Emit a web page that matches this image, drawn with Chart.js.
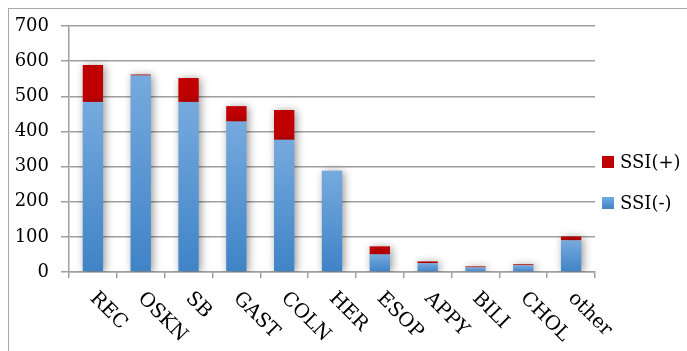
<!DOCTYPE html>
<html>
<head>
<meta charset="utf-8">
<script src="https://cdn.jsdelivr.net/npm/chart.js@4/dist/chart.umd.min.js"></script>
<style>
  html, body { margin: 0; padding: 0; background: #fff; }
  #frame {
    position: absolute; left: 8px; top: 8px; width: 700px; height: 360px;
    border-left: 1.5px solid #a8a8a8; border-top: 1.5px solid #a8a8a8;
  }
  #c { position: absolute; left: 0; top: 0; }
</style>
</head>
<body>
<div id="frame"></div>
<canvas id="c" width="687" height="351"></canvas>
<script>
// Surgical procedure categories and SSI counts
const categories = ['REC', 'OSKN', 'SB', 'GAST', 'COLN', 'HER', 'ESOP', 'APPY', 'BILI', 'CHOL', 'other'];
const ssiNegative = [484, 559, 484, 428, 376, 288, 50, 25, 13, 19, 90];
const ssiPositive = [105, 3, 68, 44, 85, 0, 23, 5, 3, 3, 11];
const seriesNames = ['SSI(-)', 'SSI(+)'];
const yTicks = { min: 0, max: 700, step: 100 };

const FONT = '"DejaVu Serif", "Liberation Serif", serif';
const GRID = '#9f9f9f';
const RED = '#c00000';

function blueGradient(chart, top, bottom) {
  const g = chart.ctx.createLinearGradient(0, top, 0, bottom);
  g.addColorStop(0, '#76aade');
  g.addColorStop(1, '#3f83c7');
  return g;
}

function blueFill(ctx) {
  const chart = ctx.chart;
  if (!chart.chartArea || ctx.raw == null) return '#5b9bd5';
  const y = chart.scales.y;
  const top = y.getPixelForValue(ctx.raw);
  const bottom = y.getPixelForValue(0);
  if (bottom - top < 1) return '#5b9bd5';
  return blueGradient(chart, top, bottom);
}

// soft drop shadow behind the bars
const barShadow = {
  id: 'barShadow',
  beforeDatasetsDraw(chart) {
    const c = chart.ctx;
    c.save();
    c.shadowColor = 'rgba(0,0,0,0.42)';
    c.shadowBlur = 8;
    c.shadowOffsetX = 2;
    c.shadowOffsetY = 1;
  },
  afterDatasetsDraw(chart) { chart.ctx.restore(); }
};

// category labels slanting down to the right
const slantLabels = {
  id: 'slantLabels',
  afterDraw(chart) {
    const c = chart.ctx;
    const x = chart.scales.x;
    c.save();
    c.font = '19.5px ' + FONT;
    c.fillStyle = '#000';
    c.textAlign = 'left';
    c.textBaseline = 'middle';
    categories.forEach((lab, i) => {
      const px = x.getPixelForValue(i);
      c.save();
      c.translate(px, 295.5);
      c.rotate(Math.PI / 4);
      c.fillText(lab, 0, 0);
      c.restore();
    });
    c.restore();
  }
};

// legend on the right, SSI(+) above SSI(-)
const sideLegend = {
  id: 'sideLegend',
  afterDraw(chart) {
    const c = chart.ctx;
    c.save();
    c.font = '18px ' + FONT;
    c.fillStyle = '#000';
    c.textAlign = 'left';
    c.textBaseline = 'middle';
    const items = [
      { name: seriesNames[1], y: 162 },
      { name: seriesNames[0], y: 203 }
    ];
    items.forEach((it, idx) => {
      const bx = 602, by = it.y - 6, s = 12;
      c.fillStyle = idx === 0 ? RED : blueGradient(chart, by, by + s);
      c.fillRect(bx, by, s, s);
      c.fillStyle = '#000';
      c.fillText(it.name, 620, it.y + 1);
    });
    c.restore();
  }
};

new Chart(document.getElementById('c'), {
  type: 'bar',
  data: {
    labels: categories,
    datasets: [
      { label: seriesNames[0], data: ssiNegative, backgroundColor: blueFill,
        barPercentage: 0.85, categoryPercentage: 0.5, borderWidth: 0 },
      { label: seriesNames[1], data: ssiPositive, backgroundColor: RED,
        barPercentage: 0.85, categoryPercentage: 0.5, borderWidth: 0 }
    ]
  },
  options: {
    responsive: false,
    animation: false,
    layout: { padding: { top: 26, right: 92, bottom: 0, left: 0 } },
    plugins: { legend: { display: false }, tooltip: { enabled: false }, title: { display: false } },
    scales: {
      x: {
        stacked: true,
        ticks: { display: false },
        grid: { drawOnChartArea: false, drawTicks: true, tickLength: 6, color: GRID, lineWidth: 1.5, offset: true },
        border: { display: true, color: GRID, width: 1.5 },
        afterFit(s) { s.height = 79; }
      },
      y: {
        stacked: true,
        min: yTicks.min,
        max: yTicks.max,
        ticks: { stepSize: yTicks.step, color: '#000', font: { family: FONT, size: 18 }, padding: 12 },
        grid: { color: GRID, lineWidth: 1.5, tickLength: 8, drawTicks: true },
        border: { display: true, color: GRID, width: 1.5 },
        afterFit(s) { s.width = 69; }
      }
    }
  },
  plugins: [barShadow, slantLabels, sideLegend]
});
</script>
</body>
</html>
